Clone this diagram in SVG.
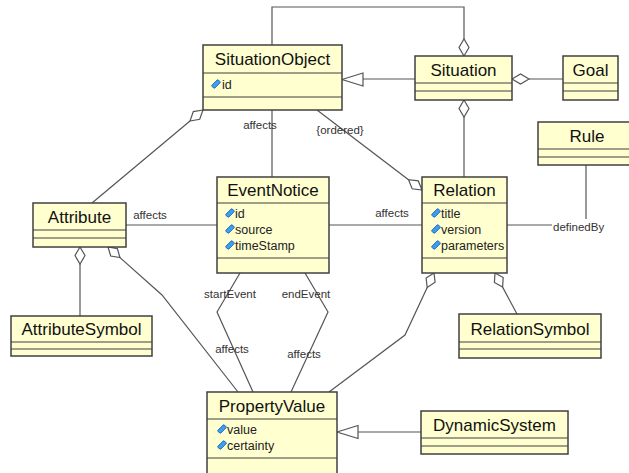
<svg xmlns="http://www.w3.org/2000/svg" width="629" height="473" viewBox="0 0 629 473">
<defs>
<style>
.box{fill:#FFFFD0;stroke:#404040;stroke-width:1.5}
.div{stroke:#404040;stroke-width:1.2}
.nm{font-family:"Liberation Sans",Arial,sans-serif;font-size:17px;fill:#111;text-anchor:middle}
.at{font-family:"Liberation Sans",Arial,sans-serif;font-size:12.5px;fill:#222}
.lb{font-family:"Liberation Sans",Arial,sans-serif;font-size:11.5px;fill:#333}
.ln{fill:none;stroke:#555;stroke-width:1.2}
.dm{fill:#fff;stroke:#555;stroke-width:1.2}
.tr{fill:#fff;stroke:#555;stroke-width:1.2}
</style>
<g id="ic"><rect x="-4.5" y="-2" width="9" height="4" rx="0.8" transform="rotate(-45)" fill="#3aa0f0" stroke="#1050b0" stroke-width="0.8"/></g>
</defs>
<rect width="629" height="473" fill="#fff"/>

<g id="connectors">
<polyline class="ln" points="464,39 464,7 272,7 272,45"/>
<polygon class="dm" points="464,56 469,47.5 464,39 459,47.5"/>
<line class="ln" x1="464" y1="117" x2="464" y2="177"/>
<polygon class="dm" points="464,100 469,108.5 464,117 459,108.5"/>
<line class="ln" x1="529" y1="79" x2="563" y2="79"/>
<polygon class="dm" points="512,79 520.5,74 529,79 520.5,84"/>
<line class="ln" x1="415" y1="79" x2="363" y2="79"/>
<polygon class="tr" points="342,79.5 363,73 363,86"/>
<line class="ln" x1="272" y1="110" x2="272" y2="177"/>
<text class="lb" x="260" y="129" text-anchor="middle">affects</text>
<line class="ln" x1="317" y1="110" x2="408.5" y2="179.7"/>
<polygon class="dm" points="422,190 418.3,180.9 408.5,179.7 412.2,188.8"/>
<text class="lb" x="340" y="134" text-anchor="middle">{ordered}</text>
<line class="ln" x1="190" y1="121" x2="92" y2="203"/>
<polygon class="dm" points="203,110 193.3,111.6 190,121 199.7,119.3"/>
<line class="ln" x1="126" y1="225" x2="217" y2="225"/>
<text class="lb" x="150" y="219" text-anchor="middle">affects</text>
<line class="ln" x1="329" y1="225" x2="422" y2="225"/>
<text class="lb" x="392" y="217" text-anchor="middle">affects</text>
<line class="ln" x1="507" y1="225" x2="552" y2="225"/>
<line class="ln" x1="586" y1="165" x2="586" y2="219"/>
<text class="lb" x="553" y="231">definedBy</text>
<line class="ln" x1="80" y1="264" x2="80" y2="316"/>
<polygon class="dm" points="80,247 85,255.5 80,264 75,255.5"/>
<polyline class="ln" points="120,257.6 162,295 238,392"/>
<polygon class="dm" points="108,247 110.7,256 120,257.6 117.3,248.6"/>
<polyline class="ln" points="240,273 217,312 253,392"/>
<polyline class="ln" points="305,273 328,312 291,392"/>
<text class="lb" x="230" y="298" text-anchor="middle">startEvent</text>
<text class="lb" x="306" y="298" text-anchor="middle">endEvent</text>
<text class="lb" x="232" y="353" text-anchor="middle">affects</text>
<text class="lb" x="304" y="358" text-anchor="middle">affects</text>
<polyline class="ln" points="427.2,287.5 405,335 329,392"/>
<polygon class="dm" points="434,273 426.1,278.1 427.2,287.5 435.1,282.3"/>
<line class="ln" x1="502.6" y1="287.1" x2="517" y2="314"/>
<polygon class="dm" points="495,273 494.4,282.4 502.6,287.1 503.2,277.6"/>
<line class="ln" x1="421" y1="432" x2="358" y2="432"/>
<polygon class="tr" points="337,432 358,425.5 358,438.5"/>
</g>

<g id="SituationObject">
<rect class="box" x="203" y="45" width="139" height="65"/>
<line class="div" x1="203" y1="73" x2="342" y2="73"/>
<line class="div" x1="203" y1="97" x2="342" y2="97"/>
<text class="nm" x="272.5" y="65">SituationObject</text>
<use href="#ic" x="216" y="84"/>
<text class="at" x="222" y="89">id</text>
</g>

<g id="Situation">
<rect class="box" x="415" y="56" width="97" height="44"/>
<line class="div" x1="415" y1="83" x2="512" y2="83"/>
<line class="div" x1="415" y1="91" x2="512" y2="91"/>
<text class="nm" x="463.5" y="76">Situation</text>
</g>

<g id="Goal">
<rect class="box" x="563" y="56" width="55" height="44"/>
<line class="div" x1="563" y1="83" x2="618" y2="83"/>
<line class="div" x1="563" y1="91" x2="618" y2="91"/>
<text class="nm" x="590.5" y="76">Goal</text>
</g>

<g id="Rule">
<rect class="box" x="538" y="122" width="96" height="43"/>
<line class="div" x1="538" y1="149" x2="634" y2="149"/>
<line class="div" x1="538" y1="157" x2="634" y2="157"/>
<text class="nm" x="587" y="142">Rule</text>
</g>

<g id="EventNotice">
<rect class="box" x="217" y="177" width="112" height="96"/>
<line class="div" x1="217" y1="203" x2="329" y2="203"/>
<line class="div" x1="217" y1="258" x2="329" y2="258"/>
<text class="nm" x="273" y="196">EventNotice</text>
<use href="#ic" x="230" y="213"/>
<text class="at" x="235" y="217.5">id</text>
<use href="#ic" x="230" y="229"/>
<text class="at" x="235" y="233.5">source</text>
<use href="#ic" x="230" y="245"/>
<text class="at" x="235" y="249.5">timeStamp</text>
</g>

<g id="Relation">
<rect class="box" x="422" y="177" width="85" height="96"/>
<line class="div" x1="422" y1="203" x2="507" y2="203"/>
<line class="div" x1="422" y1="258" x2="507" y2="258"/>
<text class="nm" x="464.5" y="196">Relation</text>
<use href="#ic" x="436" y="213"/>
<text class="at" x="441" y="217.5">title</text>
<use href="#ic" x="436" y="229"/>
<text class="at" x="441" y="233.5">version</text>
<use href="#ic" x="436" y="245"/>
<text class="at" x="441" y="249.5">parameters</text>
</g>

<g id="Attribute">
<rect class="box" x="33" y="203" width="93" height="44"/>
<line class="div" x1="33" y1="230" x2="126" y2="230"/>
<line class="div" x1="33" y1="238" x2="126" y2="238"/>
<text class="nm" x="79.5" y="223">Attribute</text>
</g>

<g id="AttributeSymbol">
<rect class="box" x="11" y="316" width="141" height="40"/>
<line class="div" x1="11" y1="342" x2="152" y2="342"/>
<line class="div" x1="11" y1="349" x2="152" y2="349"/>
<text class="nm" x="81.5" y="335">AttributeSymbol</text>
</g>

<g id="RelationSymbol">
<rect class="box" x="459" y="314" width="142" height="44"/>
<line class="div" x1="459" y1="342" x2="601" y2="342"/>
<line class="div" x1="459" y1="349" x2="601" y2="349"/>
<text class="nm" x="530" y="335">RelationSymbol</text>
</g>

<g id="PropertyValue">
<rect class="box" x="207" y="392" width="130" height="90"/>
<line class="div" x1="207" y1="419" x2="337" y2="419"/>
<line class="div" x1="207" y1="458" x2="337" y2="458"/>
<text class="nm" x="272" y="411.5">PropertyValue</text>
<use href="#ic" x="222" y="429"/>
<text class="at" x="227" y="433.5">value</text>
<use href="#ic" x="222" y="445"/>
<text class="at" x="227" y="449.5">certainty</text>
</g>

<g id="DynamicSystem">
<rect class="box" x="421" y="411" width="147" height="43"/>
<line class="div" x1="421" y1="438" x2="568" y2="438"/>
<line class="div" x1="421" y1="446" x2="568" y2="446"/>
<text class="nm" x="494.5" y="431">DynamicSystem</text>
</g>
</svg>
